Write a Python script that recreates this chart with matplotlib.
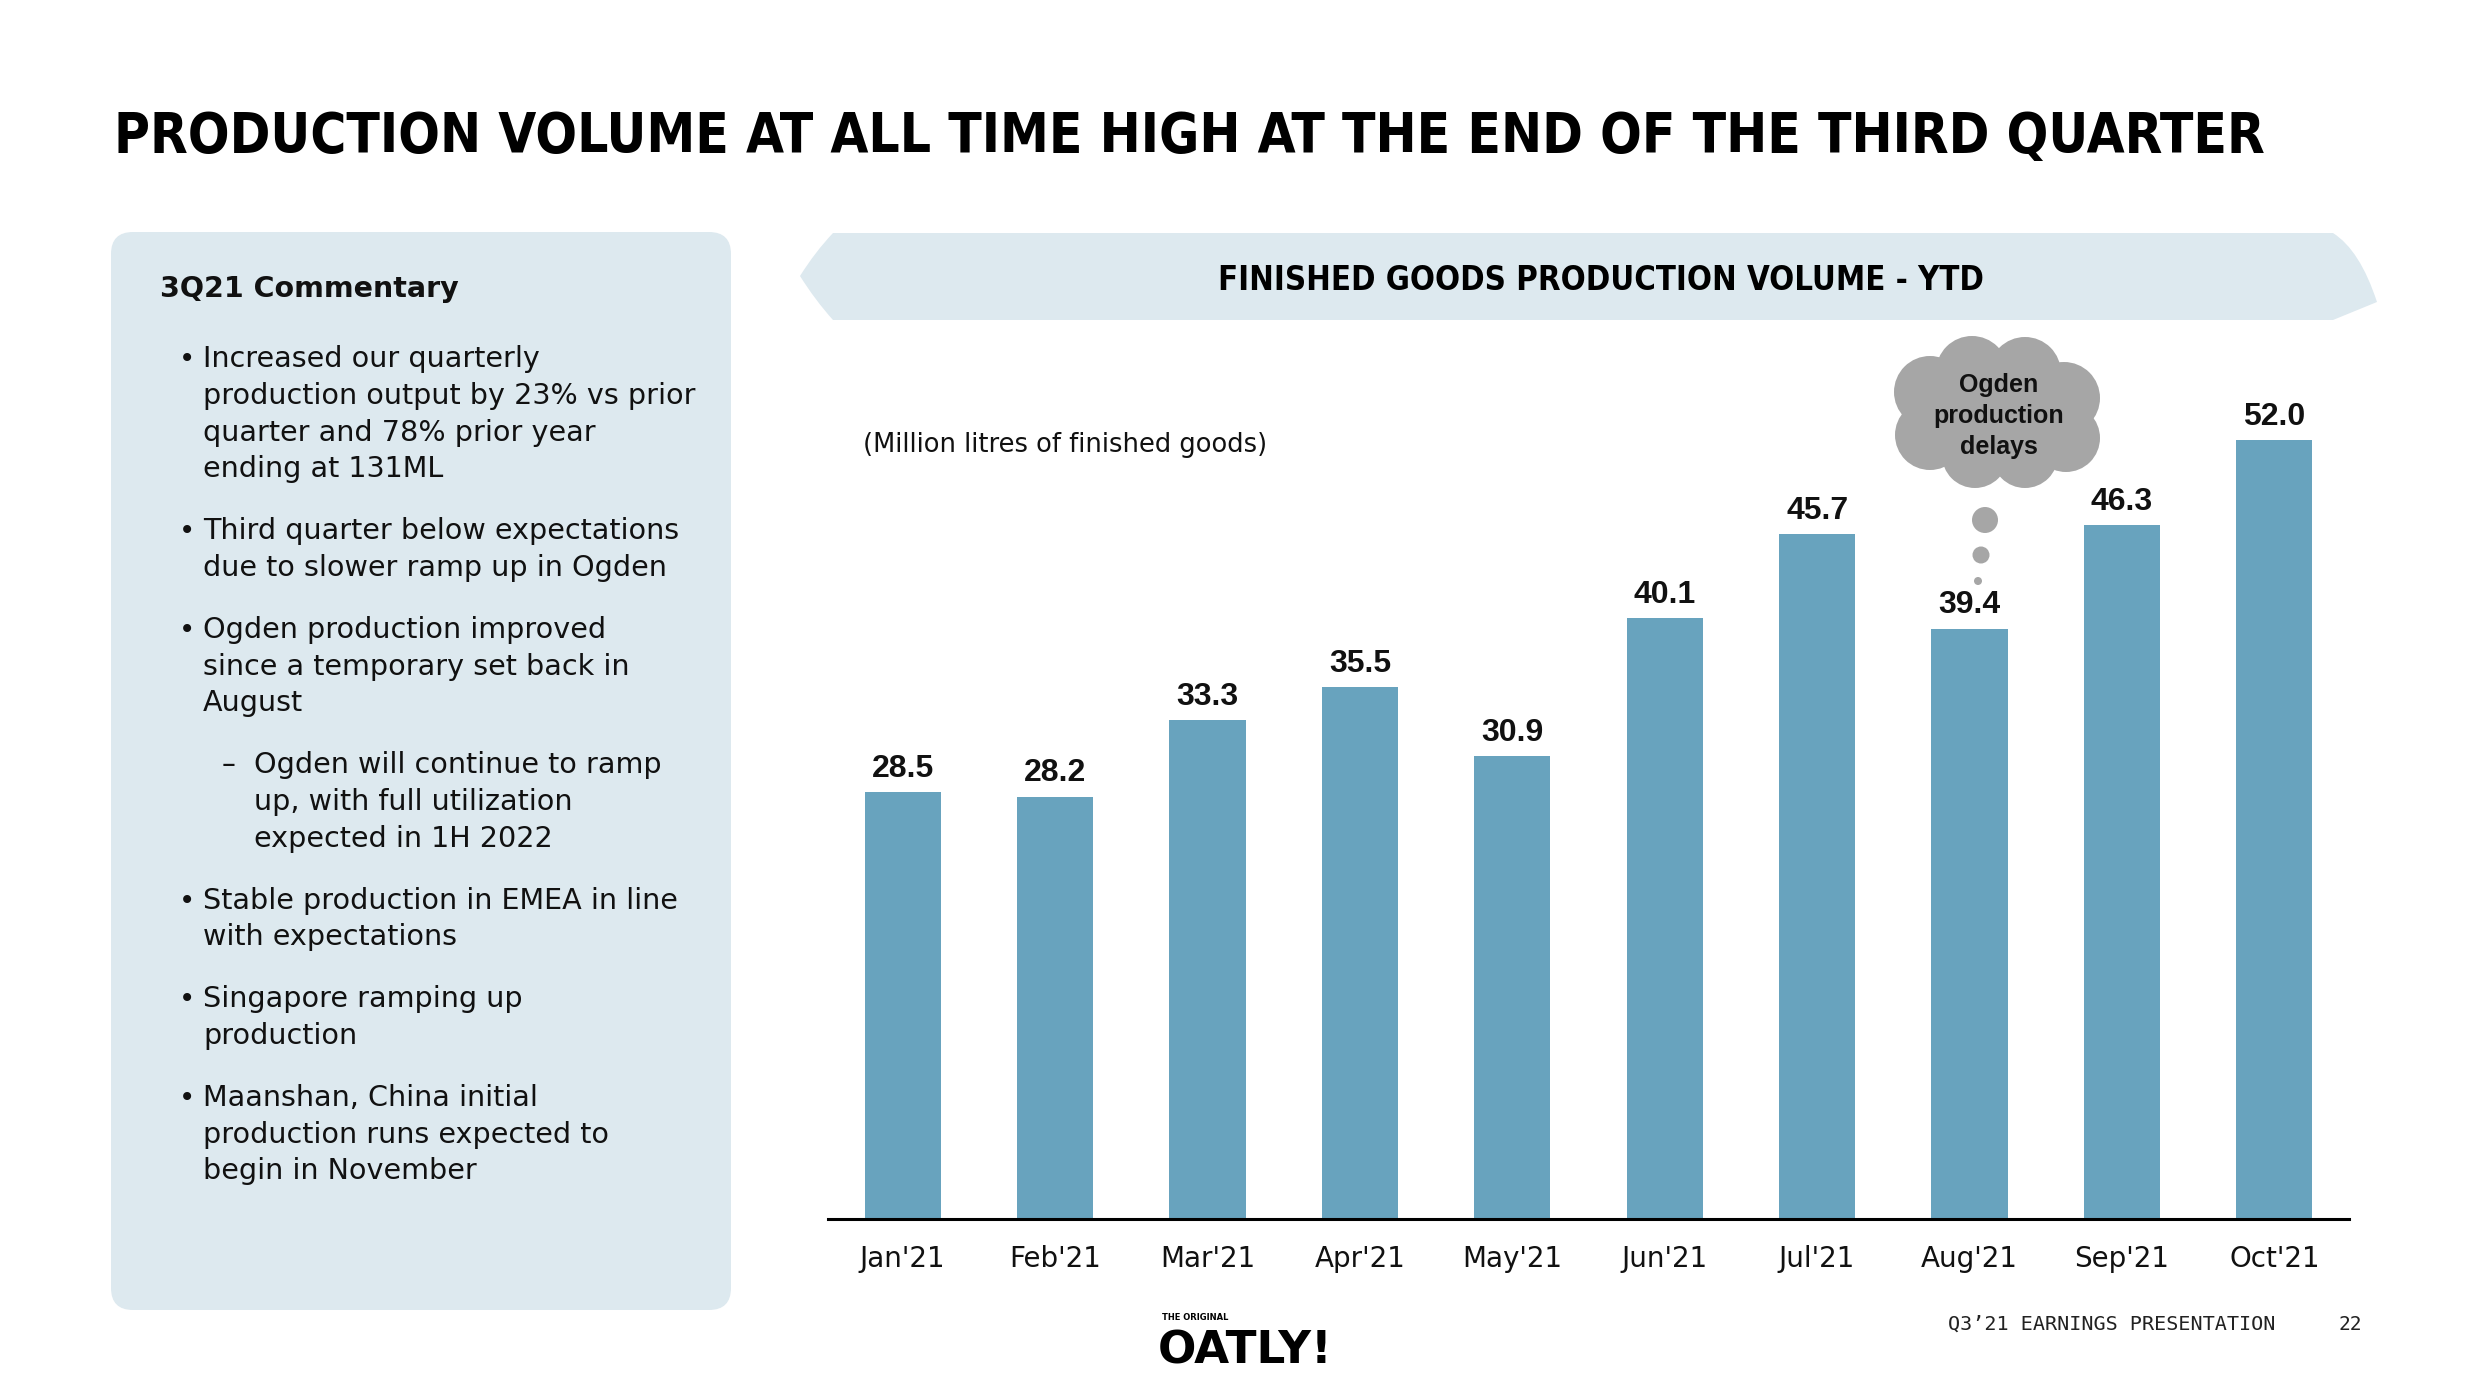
import matplotlib
matplotlib.use("Agg")
import matplotlib.pyplot as plt
from matplotlib.patches import FancyBboxPatch, PathPatch, Circle, Ellipse
from matplotlib.path import Path
from matplotlib import font_manager

# data
months = ["Jan'21", "Feb'21", "Mar'21", "Apr'21", "May'21",
          "Jun'21", "Jul'21", "Aug'21", "Sep'21", "Oct'21"]
volume = [28.5, 28.2, 33.3, 35.5, 30.9, 40.1, 45.7, 39.4, 46.3, 52.0]

title = "PRODUCTION VOLUME AT ALL TIME HIGH AT THE END OF THE THIRD QUARTER"
chart_title = "FINISHED GOODS PRODUCTION VOLUME - YTD"
unit_note = "(Million litres of finished goods)"
cloud_note = "Ogden\nproduction\ndelays"
box_header = "3Q21 Commentary"
# (kind, text): 'b' = bullet start, 'c' = continuation, 's' = sub-bullet start, 'sc' = sub continuation
commentary = [
    ("b", "Increased our quarterly"), ("c", "production output by 23% vs prior"),
    ("c", "quarter and 78% prior year"), ("c", "ending at 131ML"),
    ("b", "Third quarter below expectations"), ("c", "due to slower ramp up in Ogden"),
    ("b", "Ogden production improved"), ("c", "since a temporary set back in"), ("c", "August"),
    ("s", "Ogden will continue to ramp"), ("sc", "up, with full utilization"), ("sc", "expected in 1H 2022"),
    ("b", "Stable production in EMEA in line"), ("c", "with expectations"),
    ("b", "Singapore ramping up"), ("c", "production"),
    ("b", "Maanshan, China initial"), ("c", "production runs expected to"), ("c", "begin in November"),
]
footer = "Q3\u201921 EARNINGS PRESENTATION"
page_no = "22"

bar_color = "#68a3be"
panel_color = "#dde9ef"
cloud_color = "#a6a6a6"

names = {f.name for f in font_manager.fontManager.ttflist}
narrow = "Liberation Sans Narrow" if "Liberation Sans Narrow" in names else "DejaVu Sans"
body = "DejaVu Sans"
arial = "Liberation Sans"

W, H = 2492, 1400
fig = plt.figure(figsize=(W / 100, H / 100), dpi=100)
fig.patch.set_facecolor("white")

# pixel overlay for slide decorations
bg = fig.add_axes([0, 0, 1, 1], zorder=0)
bg.set_xlim(0, W)
bg.set_ylim(H, 0)
bg.axis("off")


def fit(t, width):
    fig.canvas.draw()
    w = t.get_window_extent().width
    t.set_fontsize(t.get_fontsize() * width / w)


# title
t = bg.text(114, 137, title, fontsize=46, fontweight="bold", family=narrow,
            fontstretch="condensed", va="center", ha="left", color="black")
fit(t, 2150)

# commentary panel
r = 22
bg.add_patch(FancyBboxPatch((111 + r, 232 + r), 620 - 2 * r, 1078 - 2 * r,
                            boxstyle=f"round,pad={r}", fc=panel_color, ec="none"))
bg.text(160, 289, box_header, fontsize=20.5, fontweight="bold", family=body,
        va="center", ha="left", color="#111111")
y = 359
step = 36.8
for i, (kind, line) in enumerate(commentary):
    if i > 0 and kind in ("b", "s"):
        y += 25
    if kind == "b":
        bg.text(187, y, "\u2022", fontsize=20, family=body, va="center", ha="center", color="#111111")
    if kind == "s":
        bg.text(222, y, "\u2013", fontsize=20, family=body, va="center", ha="left", color="#111111")
    x = 254 if kind in ("s", "sc") else 203
    bg.text(x, y, line, fontsize=20.6, family=body, va="center", ha="left", color="#111111")
    y += step

# banner behind the chart title
verts = [(833, 233), (2333, 233),
         (2360, 250), (2377, 302),
         (2333, 320), (833, 320),
         (815, 300), (800, 276),
         (815, 252), (833, 233), (833, 233)]
codes = [Path.MOVETO, Path.LINETO,
         Path.CURVE3, Path.CURVE3,
         Path.LINETO, Path.LINETO,
         Path.CURVE3, Path.CURVE3,
         Path.CURVE3, Path.CURVE3, Path.CLOSEPOLY]
bg.add_patch(PathPatch(Path(verts, codes), fc=panel_color, ec="none"))
t = bg.text(1601, 281, chart_title, fontsize=30, fontweight="bold", family=narrow,
            fontstretch="condensed", va="center", ha="center", color="black")
fit(t, 762)

bg.text(863, 445, unit_note, fontsize=18.5, family=body, va="center", ha="left", color="#111111")

# thought cloud
for cx, cy, rr in [(1930, 392, 36), (1972, 372, 36), (2025, 373, 36), (2064, 398, 36),
                   (2066, 438, 34), (2025, 455, 33), (1975, 455, 33), (1930, 435, 35)]:
    bg.add_patch(Circle((cx, cy), rr, fc=cloud_color, ec="none"))
bg.add_patch(Ellipse((1998, 413), 170, 110, fc=cloud_color, ec="none"))
for cx, cy, rr in [(1985, 520, 13), (1981, 555, 8.5), (1978, 581, 4)]:
    bg.add_patch(Circle((cx, cy), rr, fc=cloud_color, ec="none"))
for k, ln in enumerate(cloud_note.split("\n")):
    bg.text(1999, 385 + 31 * k, ln, fontsize=18, fontweight="bold", family=arial,
            va="center", ha="center", color="#111111")

# footer
t = bg.text(1948, 1324, footer, fontsize=14.5, family="DejaVu Sans Mono",
            va="center", ha="left", color="#222222")
fit(t, 328)
bg.text(2350, 1324, page_no, fontsize=14, family="DejaVu Sans Mono",
        va="center", ha="center", color="#222222")
bg.text(1162, 1317, "THE ORIGINAL", fontsize=6, fontweight="bold", family=body,
        va="center", ha="left", color="black")
t = bg.text(1158, 1351, "OATLY!", fontsize=34, fontweight="bold", family=body,
            va="center", ha="left", color="black")
fit(t, 175)

# bar chart
ax = fig.add_axes([828 / W, (H - 1219) / H, (2349 - 828) / W, (1219 - 380) / H], zorder=1)
ax.patch.set_alpha(0)
xs = range(len(months))
bars = ax.bar(xs, volume, width=0.5, color=bar_color)
ax.set_xlim(-0.49, len(months) - 0.51)
ax.set_ylim(0, 56.0)
for b, v in zip(bars, volume):
    ax.annotate(f"{v:.1f}", (b.get_x() + b.get_width() / 2, v), xytext=(0, 6),
                textcoords="offset points", ha="center", va="bottom",
                fontsize=23, fontweight="bold", family=arial, color="#111111")
ax.set_xticks(list(xs))
ax.set_xticklabels(months, fontsize=20, family=body, color="#111111")
ax.tick_params(axis="x", length=0, pad=19)
ax.set_yticks([])
for s in ["top", "left", "right"]:
    ax.spines[s].set_visible(False)
ax.spines["bottom"].set_linewidth(2.2)
ax.spines["bottom"].set_color("black")

fig.savefig("out.png", dpi=100, facecolor="white")
